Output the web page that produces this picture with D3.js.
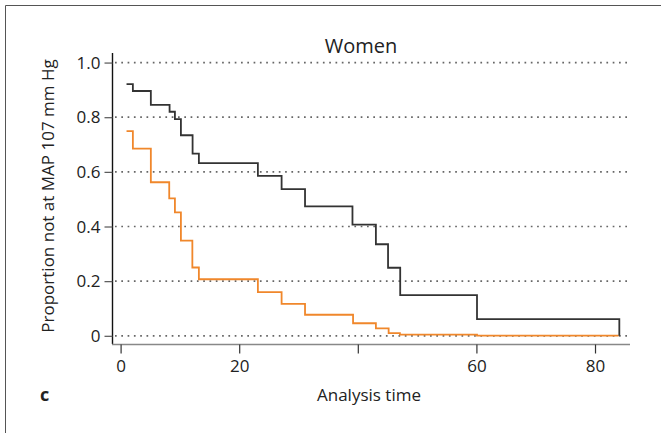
<!DOCTYPE html>
<html>
<head>
<meta charset="utf-8">
<script src="https://cdnjs.cloudflare.com/ajax/libs/d3/7.8.5/d3.min.js"></script>
<style>
  html, body { margin: 0; padding: 0; background: #fff; }
  svg text { font-family: "Open Sans", "Noto Sans", sans-serif; fill: #222; }
</style>
</head>
<body>
<svg id="chart" width="661" height="433"></svg>
<script>
// Kaplan-Meier steps
var blackTime = [1, 2.07, 5.1, 8.26, 9.16, 10.17, 12.14, 13.2, 23.15, 27.15, 31.1, 39.1, 43.05, 45.1, 47.15, 60.1, 84.1];
var blackSurv = [0.921, 0.896, 0.845, 0.82, 0.793, 0.734, 0.667, 0.632, 0.585, 0.537, 0.474, 0.407, 0.335, 0.249, 0.149, 0.061, 0];
var orangeTime = [1, 2.07, 5.1, 8.2, 9.16, 10.17, 12.1, 13.2, 23.15, 27.15, 31.1, 39.2, 43.05, 45.2, 47.1, 60.1, 84];
var orangeSurv = [0.749, 0.685, 0.562, 0.503, 0.452, 0.348, 0.25, 0.207, 0.16, 0.117, 0.077, 0.046, 0.027, 0.01, 0.004, 0.001, 0.001];
var yTicks = [0, 0.2, 0.4, 0.6, 0.8, 1.0];
var yTickLabels = ["0", "0.2", "0.4", "0.6", "0.8", "1.0"];
var xTicks = [0, 20, 40, 60, 80];
var xTickLabels = ["0", "20", "", "60", "80"];

var svg = d3.select("#chart");

// panel frame, only top and left edges are in view
svg.append("path")
  .attr("d", "M5.5,433V5.5H661")
  .attr("fill", "none")
  .attr("stroke", "#555")
  .attr("stroke-width", 1);

var x = d3.scaleLinear().domain([-1.45, 85.9]).range([112, 630]);
var y = d3.scaleLinear().domain([-0.03, 1.035]).range([344, 53]);

// dotted grid
svg.append("g").selectAll("line")
  .data(yTicks)
  .join("line")
  .attr("x1", 115)
  .attr("x2", 628)
  .attr("y1", function(d) { return y(d); })
  .attr("y2", function(d) { return y(d); })
  .attr("stroke", "#666")
  .attr("stroke-width", 1.7)
  .attr("stroke-dasharray", "1.7,4.6");

// y axis
var yAxis = d3.axisLeft(y)
  .tickValues(yTicks)
  .tickSize(8)
  .tickPadding(4)
  .tickFormat(function(d, i) { return yTickLabels[i]; });

var gy = svg.append("g")
  .attr("transform", "translate(112.5,0)")
  .call(yAxis);
gy.select(".domain").attr("stroke", "#111").attr("stroke-width", 1.4).attr("d", "M0,53V344");
gy.selectAll(".tick line").attr("stroke", "#555").attr("stroke-width", 1.2);
gy.selectAll(".tick text")
  .attr("font-size", 17)
  .attr("dy", "0.34em")
  .style("font-family", "'Open Sans', sans-serif")
  .attr("fill", "#222");

// x axis
var xAxis = d3.axisBottom(x)
  .tickValues(xTicks)
  .tickSize(9)
  .tickPadding(6)
  .tickFormat(function(d, i) { return xTickLabels[i]; });

var gx = svg.append("g")
  .attr("transform", "translate(0,344.5)")
  .call(xAxis);
gx.select(".domain").attr("stroke", "#888").attr("stroke-width", 1.4).attr("d", "M112,0H630");
gx.selectAll(".tick line").attr("stroke", "#333").attr("stroke-width", 1.2);
gx.selectAll(".tick text")
  .attr("font-size", 17)
  .style("font-family", "'Open Sans', sans-serif")
  .attr("fill", "#222");

// curves
var line = d3.line()
  .x(function(d) { return x(d[0]); })
  .y(function(d) { return y(d[1]); })
  .curve(d3.curveStepAfter);

function steps(times, surv) {
  return times.map(function(t, i) { return [t, surv[i]]; });
}

svg.append("path")
  .datum(steps(orangeTime, orangeSurv))
  .attr("d", line)
  .attr("fill", "none")
  .attr("stroke", "#f0872b")
  .attr("stroke-width", 1.8);

svg.append("path")
  .datum(steps(blackTime, blackSurv))
  .attr("d", line)
  .attr("fill", "none")
  .attr("stroke", "#333")
  .attr("stroke-width", 1.8);

// texts
svg.append("text")
  .attr("x", 361)
  .attr("y", 52.5)
  .attr("text-anchor", "middle")
  .attr("font-size", 20)
  .text("Women");

svg.append("text")
  .attr("transform", "translate(54,196) rotate(-90)")
  .attr("text-anchor", "middle")
  .attr("font-size", 17)
  .text("Proportion not at MAP 107 mm Hg");

svg.append("text")
  .attr("x", 369)
  .attr("y", 401)
  .attr("text-anchor", "middle")
  .attr("font-size", 17)
  .text("Analysis time");

svg.append("text")
  .attr("x", 40)
  .attr("y", 401)
  .attr("font-size", 18)
  .attr("font-weight", "bold")
  .text("c");
</script>
</body>
</html>
